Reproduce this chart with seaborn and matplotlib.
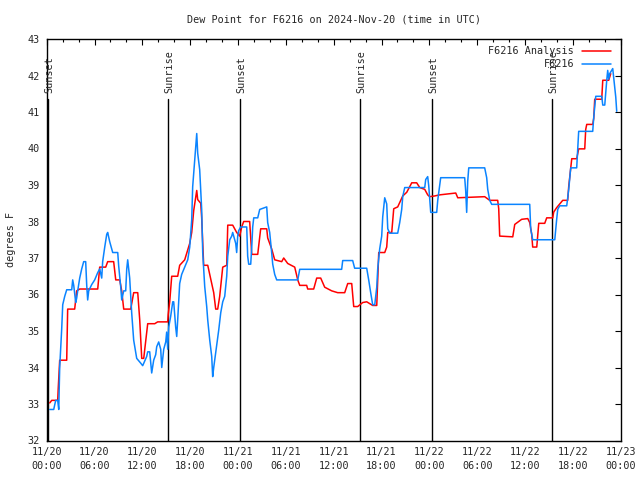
import matplotlib
matplotlib.use("Agg")
import matplotlib.pyplot as plt
import matplotlib.dates as mdates
import matplotlib.transforms as mtransforms
from matplotlib.lines import Line2D
import seaborn as sns
import pandas as pd
import numpy as np

# ---- data (hours since 2024-11-20 00:00 UTC) ----
analysis_hours = [0.38, 0.63, 1.38, 1.44, 1.63, 2.51, 2.63, 3.51, 3.76, 4.14, 6.40, 6.65, 7.40, 7.65, 8.40,
                  8.66, 9.16, 9.41, 9.66, 10.54, 10.91, 11.42, 11.67, 11.92, 12.17, 12.54, 12.67, 13.55, 13.92,
                  15.18, 15.24, 15.43, 15.68, 16.43, 16.68, 17.31, 17.94, 18.19, 18.44, 18.82, 18.94, 19.32,
                  19.44, 19.69, 20.20, 20.70, 20.95, 21.20, 21.45, 21.70, 22.08, 22.58, 22.71, 23.33, 23.83,
                  24.21, 24.46, 24.71, 25.46, 25.72, 26.47, 26.84, 27.60, 27.72, 28.22, 28.60, 29.48, 29.73,
                  30.23, 31.11, 31.49, 31.74, 32.61, 32.74, 33.49, 33.87, 34.37, 34.87, 35.75, 36.50, 37.38,
                  37.76, 38.26, 38.51, 39.01, 39.64, 40.14, 40.52, 40.89, 41.40, 41.65, 42.40, 42.65, 42.78,
                  43.28, 43.53, 44.03, 44.66, 45.16, 45.79, 46.41, 46.79, 47.42, 47.79, 48.04, 48.67, 49.30,
                  51.31, 51.56, 54.94, 55.57, 56.57, 56.70, 56.82, 58.46, 58.71, 59.58, 60.34, 60.59, 60.84,
                  60.96, 61.47, 61.72, 62.47, 62.72, 63.47, 63.60, 63.97, 64.35, 64.73, 65.35, 65.48, 65.73,
                  65.86, 66.48, 66.73, 67.49, 67.61, 67.74, 68.49, 68.62, 68.74, 69.62, 69.75, 70.50, 70.75]
analysis_values = [33.03, 33.1, 33.1, 33.4, 34.2, 34.2, 35.6, 35.6, 36.1, 36.15, 36.15, 36.75, 36.75, 36.9, 36.9,
                   36.4, 36.4, 36.1, 35.6, 35.6, 36.05, 36.05, 35.3, 34.25, 34.25, 34.97, 35.2, 35.2, 35.25,
                   35.25, 35.45, 35.8, 36.5, 36.5, 36.8, 36.95, 37.4, 37.7, 38.3, 38.85, 38.6, 38.5,
                   38.1, 36.8, 36.8, 36.3, 36.05, 35.6, 35.6, 35.95, 36.75, 36.8, 37.9, 37.9, 37.7,
                   37.6, 37.85, 38.0, 38.0, 37.1, 37.1, 37.8, 37.8, 37.55, 37.25, 36.95, 36.9, 37.0,
                   36.85, 36.75, 36.4, 36.25, 36.25, 36.15, 36.15, 36.45, 36.45, 36.2, 36.1, 36.05, 36.05,
                   36.3, 36.3, 35.67, 35.67, 35.78, 35.8, 35.75, 35.7, 35.7, 37.15, 37.15, 37.3, 37.7,
                   37.7, 38.35, 38.4, 38.7, 38.8, 39.06, 39.06, 38.93, 38.88, 38.73, 38.68, 38.7, 38.73,
                   38.78, 38.65, 38.68, 38.58, 38.58, 38.35, 37.6, 37.58, 37.92, 38.06, 38.08, 37.97, 37.65,
                   37.3, 37.3, 37.95, 37.95, 38.1, 38.1, 38.26, 38.38, 38.48, 38.58, 38.58, 38.96, 39.47,
                   39.72, 39.72, 39.99, 39.99, 40.52, 40.66, 40.66, 40.83, 41.35, 41.35, 41.87, 41.87, 42.05]

obs_hours = [0.38, 0.88, 1.13, 1.38, 1.51, 1.63, 1.88, 2.01, 2.26, 2.51, 3.14, 3.26, 3.39, 3.64, 3.76, 3.89,
             4.14, 4.39, 4.64, 4.89, 5.02, 5.14, 5.27, 5.64, 6.02, 6.40, 6.65, 6.90, 7.02, 7.28, 7.53, 7.65,
             7.90, 8.28, 8.91, 9.03, 9.28, 9.41, 9.66, 9.91, 10.04, 10.16, 10.41, 10.66, 10.91, 11.29, 11.79,
             12.04, 12.54, 12.67, 12.92, 13.17, 13.42, 13.67, 13.80, 14.05, 14.30, 14.43, 14.68, 14.93, 15.05,
             15.18, 15.30, 15.55, 15.81, 15.93, 16.18, 16.31, 16.43, 16.68, 16.93, 17.31, 17.69, 17.94, 18.19,
             18.31, 18.57, 18.82, 18.94, 19.19, 19.44, 19.57, 19.82, 20.07, 20.20, 20.45, 20.70, 20.82, 20.95,
             21.20, 21.33, 21.58, 21.83, 22.08, 22.33, 22.58, 22.71, 22.96, 23.21, 23.33, 23.71, 23.83, 23.96,
             24.08, 24.33, 25.09, 25.21, 25.34, 25.59, 25.72, 25.84, 25.97, 26.47, 26.72, 27.60, 27.72, 27.97,
             28.22, 28.35, 28.60, 28.85, 31.49, 31.74, 37.00, 37.13, 38.38, 38.63, 40.14, 40.39, 40.64, 40.89,
             41.15, 41.40, 41.52, 41.77, 42.02, 42.15, 42.40, 42.65, 42.78, 43.03, 44.03, 44.28, 44.53, 44.66,
             44.91, 47.42, 47.54, 47.79, 47.92, 48.17, 48.92, 49.05, 49.42, 52.43, 52.56, 52.68, 52.81, 52.94,
             54.94, 55.19, 55.32, 55.57, 55.82, 60.59, 60.71, 60.96, 63.73, 63.97, 64.10, 64.35, 65.23, 65.48,
             65.73, 66.48, 66.61, 66.73, 68.49, 68.62, 68.87, 69.62, 69.75, 70.00, 70.25, 70.37, 70.50, 70.62,
             70.87, 71.00, 71.12, 71.38, 71.50]
obs_values = [32.85, 32.85, 33.1, 33.1, 32.85, 34.0, 35.05, 35.72, 35.95, 36.13, 36.13, 36.4, 36.25, 35.78, 35.9, 36.1,
              36.45, 36.7, 36.9, 36.9, 36.25, 35.85, 36.1, 36.27, 36.4, 36.6, 36.7, 36.45, 36.9, 37.3, 37.65, 37.7,
              37.45, 37.15, 37.15, 36.78, 36.22, 35.85, 36.1, 36.1, 36.7, 36.95, 36.45, 35.5, 34.75, 34.25, 34.12,
              34.05, 34.3, 34.43, 34.43, 33.85, 34.2, 34.35, 34.57, 34.7, 34.5, 34.0, 34.5, 34.7, 34.97,
              34.5, 35.1, 35.4, 35.8, 35.8, 35.1, 34.85, 35.3, 36.3, 36.55, 36.75, 36.95, 37.3, 38.05,
              38.95, 39.69, 40.41, 39.87, 39.42, 38.33, 37.15, 36.22, 35.67, 35.3, 34.75, 34.3, 33.75, 34.0,
              34.4, 34.6, 35.03, 35.5, 35.8, 35.95, 36.5, 37.05, 37.5, 37.6, 37.7, 37.4, 37.15, 37.6,
              37.75, 37.85, 37.85, 37.05, 36.83, 36.83, 37.3, 37.85, 38.1, 38.1, 38.33, 38.4, 37.97, 37.7,
              37.15, 36.83, 36.55, 36.4, 36.4, 36.69, 36.69, 36.93, 36.93, 36.72, 36.72, 36.4, 36.05, 35.72,
              35.72, 36.2, 36.7, 37.25, 37.6, 38.13, 38.65, 38.48, 37.8, 37.68, 37.68, 37.97, 38.33, 38.68,
              38.93, 38.93, 39.15, 39.23, 38.98, 38.25, 38.25, 38.58, 39.2, 39.2, 38.83, 38.25, 39.1, 39.47,
              39.47, 39.2, 38.88, 38.58, 38.47, 38.47, 37.8, 37.5, 37.5, 38.06, 38.33, 38.43, 38.43, 38.88,
              39.47, 39.47, 39.97, 40.47, 40.47, 40.86, 41.43, 41.43, 41.19, 41.19, 41.87, 42.14, 41.9, 42.05,
              42.14, 42.19, 41.95, 41.41, 41.02]

event_hours = [0.13, 15.18, 24.21, 39.26, 48.29, 63.35]
event_labels = ["Sunset", "Sunrise", "Sunset", "Sunrise", "Sunset", "Sunrise"]

series_names = ["F6216 Analysis", "F6216"]
series_colors = ["#ff0000", "#0a84ff"]

base = pd.Timestamp("2024-11-20 00:00")
df = pd.concat([
    pd.DataFrame({"time": base + pd.to_timedelta(analysis_hours, unit="h"),
                  "value": analysis_values, "series": series_names[0]}),
    pd.DataFrame({"time": base + pd.to_timedelta(obs_hours, unit="h"),
                  "value": obs_values, "series": series_names[1]}),
], ignore_index=True)

sns.set_style("white")
mono = ["DejaVu Sans Mono"]
plt.rcParams["font.family"] = mono
FS = 7.3
plt.rcParams["font.size"] = FS

fig = plt.figure(figsize=(6.4, 4.8), dpi=100)
ax = fig.add_axes([46.7 / 640, 1 - 440.5 / 480, 574 / 640, 401.5 / 480])

sns.lineplot(data=df, x="time", y="value", hue="series", hue_order=series_names,
             palette=series_colors, sort=False, estimator=None, linewidth=1.1, ax=ax, legend=False)

text_shift = mtransforms.ScaledTranslation(2.0 / 100, 0, fig.dpi_scale_trans)
for h, lab in zip(event_hours, event_labels):
    t = base + pd.Timedelta(hours=h)
    ax.plot([t, t], [32, 41.36], color="black", linewidth=1.0, zorder=1)
    ax.text(t, 41.52, lab, rotation=90, ha="center", va="bottom", fontsize=FS, family=mono,
            transform=ax.transData + text_shift)

ax.set_xlim(base, base + pd.Timedelta(hours=72))
ax.set_ylim(32, 43)
ax.set_yticks(np.arange(32, 44, 1))
ax.xaxis.set_major_locator(mdates.HourLocator(byhour=[0, 6, 12, 18]))
ax.xaxis.set_minor_locator(mdates.HourLocator(byhour=range(0, 24, 2)))
ax.xaxis.set_major_formatter(mdates.DateFormatter("%m/%d\n%H:%M"))
ax.tick_params(which="both", direction="in", top=True, right=True, labelsize=FS, color="black")
ax.tick_params(which="major", length=4.5, width=0.8, pad=5)
ax.tick_params(which="minor", length=2.5, width=0.8)
for lbl in ax.get_xticklabels():
    lbl.set_linespacing(1.45)
for s in ax.spines.values():
    s.set_color("black")
    s.set_linewidth(1.0)
ax.set_xlabel("")
ax.set_ylabel("degrees F", fontsize=FS, labelpad=8)
ax.set_title("Dew Point for F6216 on 2024-Nov-20 (time in UTC)", fontsize=FS, pad=12)

handles = [Line2D([], [], color=c, linewidth=1.1) for c in series_colors]
ax.legend(handles, series_names, loc="upper right", frameon=False, markerfirst=False,
          handlelength=2.8, handletextpad=0.8, labelspacing=0.3, borderaxespad=0.3,
          fontsize=FS, bbox_to_anchor=(0.995, 1.0))

fig.savefig("out.png", dpi=100)
